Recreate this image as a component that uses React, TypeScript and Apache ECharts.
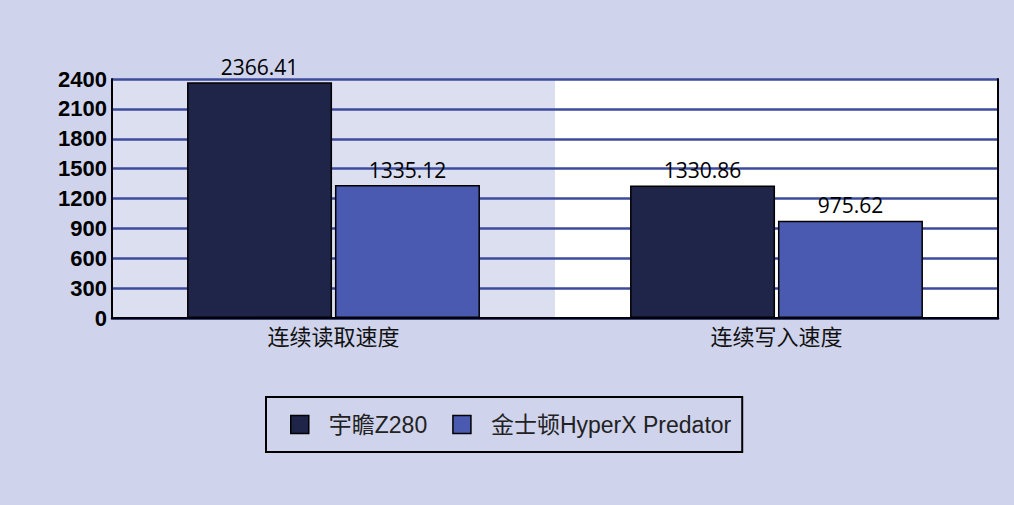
import * as echarts from "echarts"
import { useEffect, useRef } from "react"

const categories = ["连续读取速度", "连续写入速度"]
const seriesNames = ["宇瞻Z280", "金士顿HyperX Predator"]
const apacerValues = [2366.41, 1330.86]
const kingstonValues = [1335.12, 975.62]
const barColors = ["#1f2549", "#4a5ab0"]

const CJK = '"Noto Sans CJK SC", "Liberation Sans", sans-serif'
const LATIN = '"Liberation Sans", "Noto Sans CJK SC", sans-serif'

export default function App(): React.ReactElement {
  const ref = useRef<HTMLDivElement>(null)

  useEffect(() => {
    const node = ref.current
    if (!node) return
    const chart = echarts.init(node, undefined, { renderer: "svg" })

    const barSeries = (name: string, data: number[], color: string) => ({
      name,
      type: "bar" as const,
      data,
      barWidth: 145,
      barGap: "2%",
      z: 3,
      itemStyle: { color, borderColor: "#000", borderWidth: 1.5 },
      label: {
        show: true,
        position: "top" as const,
        distance: 5,
        fontSize: 21,
        color: "#000",
        fontFamily: '"Open Sans", sans-serif',
      },
    })

    chart.setOption({
      animation: false,
      backgroundColor: "#cfd3ec",
      grid: { left: 112, top: 79, width: 886, height: 239 },
      legend: {
        left: 266,
        top: 397,
        padding: [16, 11, 16, 24],
        borderColor: "#000",
        borderWidth: 2,
        itemWidth: 18,
        itemHeight: 18,
        itemGap: 25,
        icon: "rect",
        itemStyle: { borderColor: "#000", borderWidth: 1.5 },
        textStyle: {
          fontSize: 23,
          color: "#222",
          fontFamily: LATIN,
          padding: [0, 0, 0, 15],
        },
        data: seriesNames,
      },
      xAxis: [
        {
          type: "category",
          data: categories,
          z: 0,
          axisLine: { lineStyle: { color: "#000", width: 2.5 } },
          axisTick: { show: false },
          axisLabel: { fontSize: 22, color: "#111", fontFamily: CJK, margin: 6 },
          splitArea: {
            show: true,
            areaStyle: { color: ["#dcdff0", "#ffffff"] },
          },
        },
        {
          type: "category",
          position: "top",
          data: categories,
          z: 4,
          axisLine: { lineStyle: { color: "#000", width: 2 } },
          axisTick: { show: false },
          axisLabel: { show: false },
        },
      ],
      yAxis: [
        {
          type: "value",
          min: 0,
          max: 2400,
          interval: 300,
          z: 1,
          axisLine: { show: true, lineStyle: { color: "#000", width: 2 } },
          axisTick: { show: false },
          axisLabel: {
            fontSize: 22,
            fontWeight: "bold",
            color: "#000",
            fontFamily: LATIN,
            margin: 5,
            formatter: (v: number) => String(v),
          },
          splitLine: { lineStyle: { color: "#3c4b9c", width: 2.5 } },
        },
        {
          type: "value",
          position: "right",
          min: 0,
          max: 2400,
          interval: 300,
          z: 4,
          axisLine: { show: true, lineStyle: { color: "#000", width: 2 } },
          axisTick: { show: false },
          axisLabel: { show: false },
          splitLine: { show: false },
        },
      ],
      series: [
        barSeries(seriesNames[0], apacerValues, barColors[0]),
        barSeries(seriesNames[1], kingstonValues, barColors[1]),
      ],
    })

    return () => {
      chart.dispose()
    }
  }, [])

  return (
    <div
      ref={ref}
      style={{ position: "fixed", left: 0, top: 0, width: 1014, height: 505 }}
    />
  )
}
